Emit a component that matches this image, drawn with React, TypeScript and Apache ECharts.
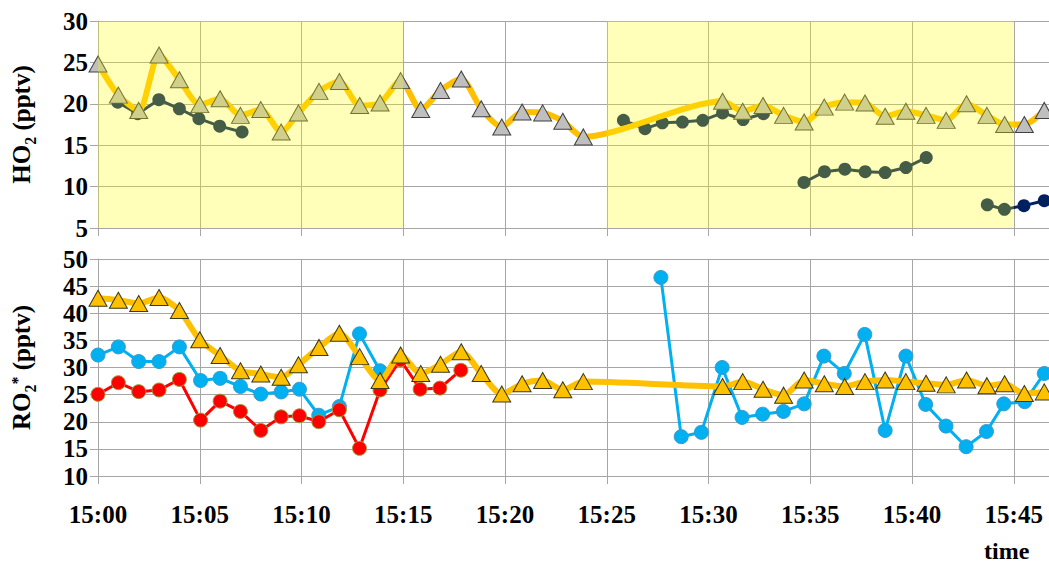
import React, { useEffect, useRef } from 'react';
import * as echarts from 'echarts';

// time in minutes after 15:00
const shadePeriods = [
  [0, 15],
  [25, 45],
];

const modelTimes = [
  0, 1, 2, 3, 4, 5, 6, 7, 8, 9,
  9.85, 10.86, 11.86, 12.86, 13.86, 14.87, 15.86, 16.83, 17.85, 18.83, 19.84, 20.84, 21.85, 22.84, 23.85,
  30.69, 31.68, 32.68, 33.69, 34.7, 35.69, 36.69, 37.69, 38.68, 39.7, 40.69, 41.68, 42.68, 43.68, 44.55, 45.52, 46.5,
];

const ho2Model = [
  24.8, 21.05, 19.2, 25.9, 22.9, 19.9, 20.6, 18.6, 19.3, 16.6,
  18.9, 21.5, 22.7, 19.8, 20.1, 22.8, 19.3, 21.6, 23.0, 19.4, 17.2, 19.0, 18.9, 17.9, 16.0,
  20.3, 19.1, 19.8, 18.6, 17.8, 19.6, 20.2, 20.1, 18.5, 19.1, 18.6, 18.0, 20.0, 18.6, 17.5, 17.5, 19.2,
];

const ro2Model = [
  42.75, 42.4, 41.8, 42.9, 40.5, 35.1, 32.2, 29.4, 28.8, 28.2,
  30.5, 33.7, 36.3, 32.0, 27.6, 32.3, 28.9, 30.6, 32.9, 28.9, 25.1, 27.0, 27.6, 25.9, 27.4,
  26.5, 27.4, 26.0, 24.9, 27.7, 27.0, 26.5, 27.4, 27.7, 27.4, 27.1, 26.8, 27.7, 26.65, 27.0, 25.2, 25.5,
];

// null = gap in the measurement line
const ho2MeasTimes = [
  0.97, 1.95, 2.99, 4.0, 4.96, 5.98, 7.08, null,
  25.82, 26.88, 27.73, 28.72, 29.72, 30.69, 31.7, 32.7, null,
  34.69, 35.7, 36.7, 37.7, 38.68, 39.7, 40.7, null,
  43.7, 44.54, 45.5, 46.5,
];
const ho2Meas = [
  20.2, 18.8, 20.5, 19.4, 18.2, 17.3, 16.6, null,
  18.0, 17.0, 17.7, 17.8, 18.0, 18.9, 18.1, 18.8, null,
  10.5, 11.8, 12.1, 11.8, 11.7, 12.3, 13.5, null,
  7.8, 7.25, 7.7, 8.3,
];

const ro2BlueTimes = [
  0, 1, 2, 3, 4, 5.04, 6, 7, 8, 9, 9.9, 10.85, 11.86, 12.85, 13.86, null,
  27.66, 28.66, 29.65, 30.67, 31.65, 32.66, 33.68, 34.7, 35.67, 36.67, 37.68, 38.68, 39.7, 40.67, 41.67, 42.66, 43.66, 44.51, 45.54, 46.5,
];
const ro2Blue = [
  32.3, 33.8, 31.1, 31.1, 33.8, 27.6, 28.0, 26.5, 25.1, 25.5, 26.0, 21.2, 22.8, 36.2, 29.4, null,
  46.6, 17.25, 18.05, 30.0, 20.8, 21.4, 21.9, 23.3, 32.1, 28.9, 36.1, 18.4, 32.1, 23.2, 19.2, 15.4, 18.2, 23.3, 23.7, 28.9,
];

const ro2RedTimes = [0, 1, 2, 3, 4, 5.04, 6, 7, 8, 9, 9.9, 10.85, 11.86, 12.85, 13.86, 14.86, 15.83, 16.8, 17.83];
const ro2Red = [25.05, 27.2, 25.55, 25.85, 27.8, 20.3, 23.8, 21.9, 18.4, 20.9, 21.1, 20.0, 22.2, 15.1, 25.85, 31.4, 26.0, 26.2, 29.5];

const xTickLabels = ['15:00', '15:05', '15:10', '15:15', '15:20', '15:25', '15:30', '15:35', '15:40', '15:45'];

const ho2Range = [5, 30];
const ro2Range = [10, 50];

const FONT = 'Liberation Serif';
const GRID_COLOR = '#A6A6A6';

function pairs(ts: (number | null)[], vs: (number | null)[]) {
  return ts.map((t, i) => (t == null || vs[i] == null ? ['-', '-'] : [t, vs[i]]));
}

const richName = {
  a: { fontSize: 25, fontWeight: 'bold', fontFamily: FONT, color: '#000', verticalAlign: 'top', padding: [0, 0, 4, 0] },
  s: { fontSize: 16, fontWeight: 'bold', fontFamily: FONT, color: '#000', verticalAlign: 'bottom' },
  p: { fontSize: 16, fontWeight: 'bold', fontFamily: FONT, color: '#000', verticalAlign: 'top' },
};

export default function App() {
  const ref = useRef<HTMLDivElement>(null);

  useEffect(() => {
    if (!ref.current) return;
    const chart = echarts.init(ref.current, undefined, { renderer: 'svg' });
    const pxPerMin = 20.35;
    const xMax = 50;
    const gridWidth = pxPerMin * xMax;

    const xAxisCommon = (grid: number, showLabel: boolean) => ({
      type: 'value',
      gridIndex: grid,
      min: 0,
      max: xMax,
      interval: 5,
      axisLine: { show: true, lineStyle: { color: GRID_COLOR, width: 1 } },
      axisTick: { show: true, length: 8, lineStyle: { color: GRID_COLOR } },
      splitLine: { show: true, lineStyle: { color: GRID_COLOR, width: 1 } },
      axisLabel: {
        show: showLabel,
        margin: 26,
        fontSize: 25,
        fontWeight: 'bold',
        fontFamily: FONT,
        color: '#000',
        showMaxLabel: false,
        formatter: (v: number) => xTickLabels[Math.round(v / 5)] ?? '',
      },
    });

    const yAxisCommon = (grid: number, range: number[], name: string) => ({
      type: 'value',
      gridIndex: grid,
      min: range[0],
      max: range[1],
      interval: 5,
      name,
      nameLocation: 'middle',
      nameRotate: 90,
      nameGap: 60,
      nameTextStyle: { rich: richName },
      axisLine: { show: true, lineStyle: { color: GRID_COLOR, width: 1 } },
      axisTick: { show: true, length: 8, lineStyle: { color: GRID_COLOR } },
      splitLine: { show: true, lineStyle: { color: GRID_COLOR, width: 1 } },
      axisLabel: {
        margin: 10,
        fontSize: 25,
        fontWeight: 'bold',
        fontFamily: FONT,
        color: '#000',
      },
    });

    chart.setOption({
      animation: false,
      backgroundColor: '#ffffff',
      grid: [
        { left: 98, top: 21, width: gridWidth, height: 207, outerBoundsMode: 'none', containLabel: false },
        { left: 98, top: 259, width: gridWidth, height: 217, outerBoundsMode: 'none', containLabel: false },
      ],
      xAxis: [xAxisCommon(0, false), xAxisCommon(1, true)],
      yAxis: [
        yAxisCommon(0, ho2Range, '{a|HO}{s|2}{a| (pptv)}'),
        yAxisCommon(1, ro2Range, '{a|RO}{s|2}{p|*}{a| (pptv)}'),
      ],
      graphic: [
        {
          type: 'text',
          left: 984,
          top: 539,
          style: { text: 'time', fontSize: 24, fontWeight: 'bold', fontFamily: FONT, fill: '#000' },
        },
      ],
      series: [
        {
          name: 'HO2 measured',
          type: 'line',
          xAxisIndex: 0,
          yAxisIndex: 0,
          data: pairs(ho2MeasTimes, ho2Meas),
          connectNulls: false,
          symbol: 'circle',
          symbolSize: 13,
          lineStyle: { color: '#002060', width: 3 },
          itemStyle: { color: '#002060' },
          z: 2,
        },
        {
          name: 'HO2 model',
          type: 'line',
          xAxisIndex: 0,
          yAxisIndex: 0,
          smooth: 0.25,
          data: pairs(modelTimes, ho2Model),
          symbol: 'triangle',
          symbolSize: [18, 16],
          lineStyle: { color: '#FFC000', width: 6 },
          itemStyle: { color: '#BFBFBF', borderColor: '#404040', borderWidth: 1 },
          z: 3,
        },
        {
          name: 'shade',
          type: 'custom',
          xAxisIndex: 0,
          yAxisIndex: 0,
          silent: true,
          z: 10,
          encode: { x: [0, 1] },
          data: shadePeriods,
          renderItem: (params: any, api: any) => {
            const p0 = api.coord([api.value(0), ho2Range[1]]);
            const p1 = api.coord([api.value(1), ho2Range[0]]);
            return {
              type: 'rect',
              shape: { x: p0[0], y: p0[1], width: p1[0] - p0[0], height: p1[1] - p0[1] },
              style: { fill: 'rgba(255,255,0,0.27)' },
            };
          },
        },
        {
          name: 'RO2 blue',
          type: 'line',
          xAxisIndex: 1,
          yAxisIndex: 1,
          data: pairs(ro2BlueTimes, ro2Blue),
          connectNulls: false,
          symbol: 'circle',
          symbolSize: 14,
          lineStyle: { color: '#00B0F0', width: 3 },
          itemStyle: { color: '#00B0F0', borderColor: '#3A9AD0', borderWidth: 1 },
          z: 2,
        },
        {
          name: 'RO2 red',
          type: 'line',
          xAxisIndex: 1,
          yAxisIndex: 1,
          data: pairs(ro2RedTimes, ro2Red),
          symbol: 'circle',
          symbolSize: 14,
          lineStyle: { color: '#FF0000', width: 3 },
          itemStyle: { color: '#FF0000', borderColor: '#9C9C3E', borderWidth: 1 },
          z: 3,
        },
        {
          name: 'RO2 model',
          type: 'line',
          xAxisIndex: 1,
          yAxisIndex: 1,
          smooth: 0.25,
          data: pairs(modelTimes, ro2Model),
          symbol: 'triangle',
          symbolSize: [18, 16],
          lineStyle: { color: '#FFC000', width: 6 },
          itemStyle: { color: '#FFC000', borderColor: '#3A3A1A', borderWidth: 1 },
          z: 4,
        },
      ],
    });

    return () => chart.dispose();
  }, []);

  return (
    <div
      ref={ref}
      style={{ position: 'fixed', left: 0, top: 0, width: 1049, height: 567, background: '#fff' }}
    />
  );
}
